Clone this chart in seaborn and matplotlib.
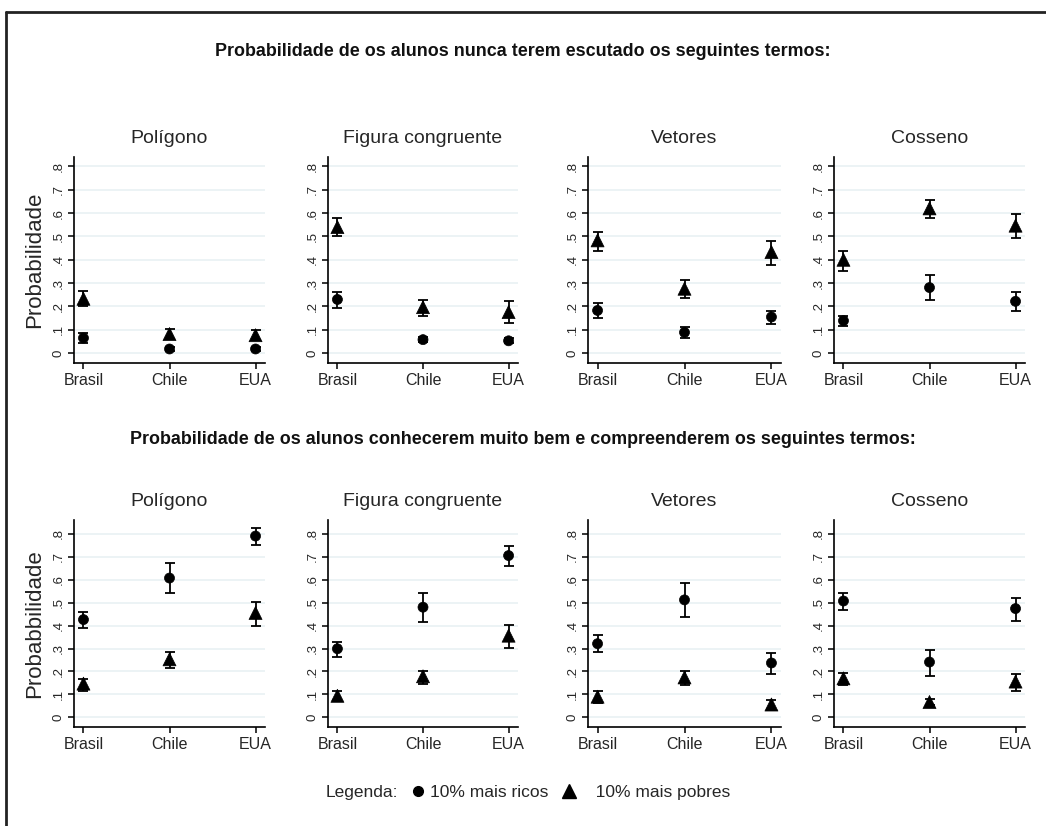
import numpy as np
import pandas as pd
import matplotlib
matplotlib.use("Agg")
import matplotlib.pyplot as plt
from matplotlib.lines import Line2D
import seaborn as sns

# ---------------- data ----------------
countries = ["Brasil", "Chile", "EUA"]
terms = ["Polígono", "Figura congruente", "Vetores", "Cosseno"]
row_titles = [
    "Probabilidade de os alunos nunca terem escutado os seguintes termos:",
    "Probabilidade de os alunos conhecerem muito bem e compreenderem os seguintes termos:",
]
row_ylabels = ["Probabilidade", "Probabbilidade"]
groups = ["10% mais ricos", "10% mais pobres"]
ytick_labels = ["0", ".1", ".2", ".3", ".4", ".5", ".6", ".7", ".8"]

# Row 1: never heard the term
nunca_ricos = [[0.065, 0.018, 0.018], [0.230, 0.058, 0.053], [0.183, 0.089, 0.155], [0.139, 0.281, 0.222]]
nunca_ricos_lo = [[0.045, 0.010, 0.010], [0.195, 0.048, 0.043], [0.152, 0.063, 0.126], [0.118, 0.227, 0.182]]
nunca_ricos_hi = [[0.085, 0.028, 0.028], [0.262, 0.068, 0.063], [0.213, 0.114, 0.182], [0.160, 0.334, 0.260]]
nunca_pobres = [[0.233, 0.082, 0.077], [0.540, 0.197, 0.176], [0.483, 0.276, 0.433], [0.400, 0.620, 0.546]]
nunca_pobres_lo = [[0.200, 0.062, 0.055], [0.500, 0.160, 0.131], [0.437, 0.236, 0.377], [0.354, 0.577, 0.492]]
nunca_pobres_hi = [[0.266, 0.103, 0.100], [0.577, 0.226, 0.222], [0.520, 0.313, 0.482], [0.439, 0.658, 0.597]]

# Row 2: know and understand very well
conhece_ricos = [[0.426, 0.607, 0.790], [0.299, 0.480, 0.705], [0.321, 0.512, 0.237], [0.507, 0.241, 0.474]]
conhece_ricos_lo = [[0.389, 0.540, 0.753], [0.264, 0.415, 0.659], [0.286, 0.437, 0.191], [0.467, 0.181, 0.421]]
conhece_ricos_hi = [[0.458, 0.671, 0.827], [0.327, 0.544, 0.748], [0.359, 0.584, 0.279], [0.544, 0.293, 0.521]]
conhece_pobres = [[0.147, 0.253, 0.455], [0.094, 0.179, 0.356], [0.090, 0.174, 0.056], [0.170, 0.067, 0.156]]
conhece_pobres_lo = [[0.113, 0.216, 0.400], [0.076, 0.144, 0.302], [0.063, 0.142, 0.035], [0.142, 0.055, 0.113]]
conhece_pobres_hi = [[0.169, 0.286, 0.504], [0.113, 0.204, 0.402], [0.116, 0.200, 0.077], [0.195, 0.080, 0.187]]

rows_data = [
    [(nunca_ricos, nunca_ricos_lo, nunca_ricos_hi), (nunca_pobres, nunca_pobres_lo, nunca_pobres_hi)],
    [(conhece_ricos, conhece_ricos_lo, conhece_ricos_hi), (conhece_pobres, conhece_pobres_lo, conhece_pobres_hi)],
]

records = []
for r, row in enumerate(rows_data):
    for g, (mean, lo, hi) in enumerate(row):
        for t, term in enumerate(terms):
            for c, country in enumerate(countries):
                records.append(dict(row=r, term=term, country=country, grupo=groups[g],
                                    valor=mean[t][c], lo=lo[t][c], hi=hi[t][c]))
df = pd.DataFrame(records)

# ---------------- style ----------------
sns.set_theme(style="white")
plt.rcParams["font.family"] = ["Liberation Sans", "DejaVu Sans"]

W, H = 1046, 826
fig = plt.figure(figsize=(W / 100, H / 100), dpi=100)

col_left = [74, 328, 588, 834]
col_width = [191, 190, 193, 191]
row_top = [157, 520]
row_bottom = [363, 727]

markers = {groups[0]: "o", groups[1]: "^"}
msizes = {groups[0]: 52, groups[1]: 88}
grid_color = "#e9f1f3"

for r in range(2):
    for t, term in enumerate(terms):
        ax = fig.add_axes([col_left[t] / W, 1 - row_bottom[r] / H,
                           col_width[t] / W, (row_bottom[r] - row_top[r]) / H])
        sub = df[(df.row == r) & (df.term == term)]
        for g in groups:
            s = sub[sub.grupo == g]
            xs = np.arange(len(countries))
            ax.errorbar(xs, s["valor"], yerr=[s["valor"] - s["lo"], s["hi"] - s["valor"]],
                        fmt="none", ecolor="black", elinewidth=1.3, capsize=3.5,
                        capthick=1.3, zorder=3)
        sns.scatterplot(data=sub, x="country", y="valor", style="grupo", markers=markers,
                        hue="grupo", palette={groups[0]: "black", groups[1]: "black"},
                        size="grupo", sizes=msizes,
                        edgecolor="black", linewidth=0.5, legend=False, ax=ax, zorder=4)
        ax.set_xlim(-0.11, 2.11)
        ax.set_ylim(-0.042, 0.84 if r == 0 else 0.86)
        ax.set_yticks(np.arange(0, 0.81, 0.1))
        ax.set_yticklabels(ytick_labels, rotation=90, va="center", fontsize=9.5)
        ax.set_xticks(range(len(countries)))
        ax.set_xticklabels(countries, fontsize=11.5)
        ax.yaxis.grid(True, color=grid_color, linewidth=1.2)
        ax.set_axisbelow(True)
        for sp in ["top", "right"]:
            ax.spines[sp].set_visible(False)
        for sp in ["left", "bottom"]:
            ax.spines[sp].set_color("black")
            ax.spines[sp].set_linewidth(1.2)
        ax.tick_params(axis="both", direction="out", length=4, width=1.1, color="black",
                       bottom=True, left=True, pad=3)
        ax.set_xlabel("")
        if t == 0:
            ax.set_ylabel(row_ylabels[r], fontsize=16, labelpad=5)
        else:
            ax.set_ylabel("")
        ax.set_title(term, fontsize=14, pad=10)

# section titles
fig.text(0.5, 1 - 52 / H, row_titles[0], ha="center", va="center", fontsize=12.9,
         fontweight="bold", color="#111111")
fig.text(0.5, 1 - 439 / H, row_titles[1], ha="center", va="center", fontsize=12.9,
         fontweight="bold", color="#111111")

# legend
fig.text(398 / W, 1 - 792 / H, "Legenda:", ha="right", va="center", fontsize=12.5)
handles = [Line2D([], [], marker="o", color="black", linestyle="none", markersize=7),
           Line2D([], [], marker="^", color="black", linestyle="none", markersize=10)]
fig.legend(handles, [groups[0], "   " + groups[1]], loc="center left",
           bbox_to_anchor=(409 / W, 1 - 792 / H), ncol=2, frameon=False,
           fontsize=12.5, handlelength=1.0, handletextpad=0.2, columnspacing=0.7,
           borderpad=0, borderaxespad=0)

# outer frame (left and top edges)
fig.add_artist(Line2D([6 / W, 6 / W], [0, 1 - 12 / H], transform=fig.transFigure,
                      color="#222222", linewidth=2))
fig.add_artist(Line2D([6 / W, 1], [1 - 12 / H, 1 - 12 / H], transform=fig.transFigure,
                      color="#222222", linewidth=2))

fig.savefig("out.png", dpi=100, facecolor="white")
